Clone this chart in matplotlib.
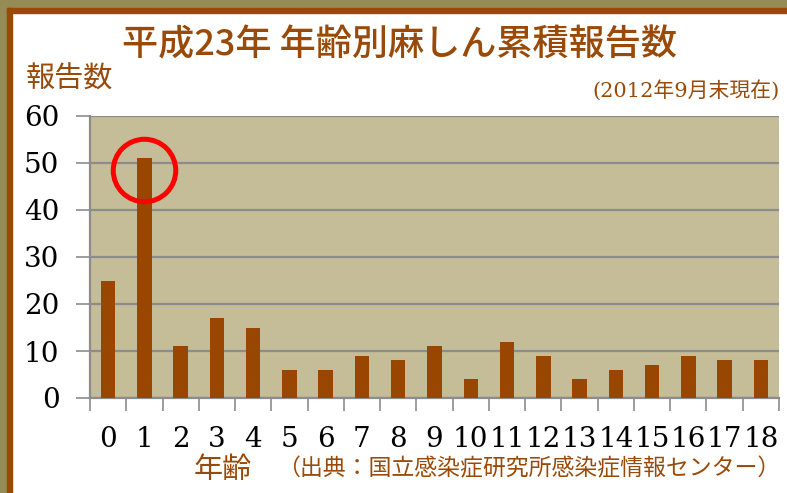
import matplotlib
matplotlib.use("Agg")
import matplotlib.pyplot as plt
from matplotlib.patches import Rectangle
import numpy as np

# data
ages = [str(a) for a in range(19)]
counts = [25, 51, 11, 17, 15, 6, 6, 9, 8, 11, 4, 12, 9, 4, 6, 7, 9, 8, 8]
y_ticks = [0, 10, 20, 30, 40, 50, 60]

brown = "#9a4a08"
jp = ["Noto Sans CJK JP", "DejaVu Sans"]
serif = ["DejaVu Serif"]

fig = plt.figure(figsize=(7.87, 4.93), dpi=100)
W, H = 787, 493

# frame at top and left (olive band + brown line)
def px_rect(x, y, w, h, color):
    fig.patches.append(Rectangle((x / W, 1 - (y + h) / H), w / W, h / H,
                                 transform=fig.transFigure, color=color, zorder=0))

px_rect(0, 0, W, 8, "#958b55")
px_rect(0, 0, 7, H, "#958b55")
px_rect(7, 8, W - 7, 5, brown)
px_rect(7, 8, 5, H - 8, brown)

ax = fig.add_axes([90 / W, 1 - 398 / H, 689 / W, 282 / H])
ax.set_facecolor("#c4bd97")
x = np.arange(len(counts))
ax.bar(x, counts, width=0.4, color="#994700", zorder=3)
ax.set_xlim(-0.5, len(counts) - 0.5)
ax.set_ylim(0, 60)
ax.set_yticks(y_ticks)
ax.set_yticklabels([str(v) for v in y_ticks], fontfamily=serif, fontsize=20)
ax.yaxis.grid(True, color="#8c8c8c", linewidth=1.6, zorder=1)
ax.set_axisbelow(True)

# ticks at category boundaries, labels at centres
ax.set_xticks(np.arange(len(counts) + 1) - 0.5)
ax.set_xticklabels([])
ax.set_xticks(x, minor=True)
ax.set_xticklabels(ages, minor=True, fontfamily=serif, fontsize=20)
ax.tick_params(axis="x", which="major", length=9, width=1.2, color="#8c8c8c", direction="out")
ax.tick_params(axis="x", which="minor", length=0, pad=20)
ax.tick_params(axis="y", length=10, width=1.2, color="#8c8c8c", pad=12)

for s in ["top", "right"]:
    ax.spines[s].set_visible(False)
for s in ["left", "bottom"]:
    ax.spines[s].set_color("#8c8c8c")
    ax.spines[s].set_linewidth(1.6)

# red circle around age 1
ax.plot([1], [48.5], marker="o", markersize=45, markerfacecolor="none",
        markeredgecolor="#ff0000", markeredgewidth=3.6, zorder=5, clip_on=False)

fig.text(400 / W, 1 - 45 / H, "平成23年 年齢別麻しん累積報告数", fontfamily=jp,
         fontsize=26, color=brown, ha="center", va="center", fontweight="medium")
fig.text(26 / W, 1 - 80 / H, "報告数", fontfamily=jp, fontsize=21, color=brown,
         ha="left", va="center")
fig.text(780 / W, 1 - 90 / H, "(2012年9月末現在)", fontfamily=serif + jp, fontsize=15,
         color=brown, ha="right", va="center")
fig.text(194 / W, 1 - 470 / H, "年齢", fontfamily=jp, fontsize=21, color=brown,
         ha="left", va="center")
fig.text(780 / W, 1 - 469 / H, "（出典：国立感染症研究所感染症情報センター）", fontfamily=jp,
         fontsize=16.5, color=brown, ha="right", va="center")

fig.savefig("out.png", dpi=100)
